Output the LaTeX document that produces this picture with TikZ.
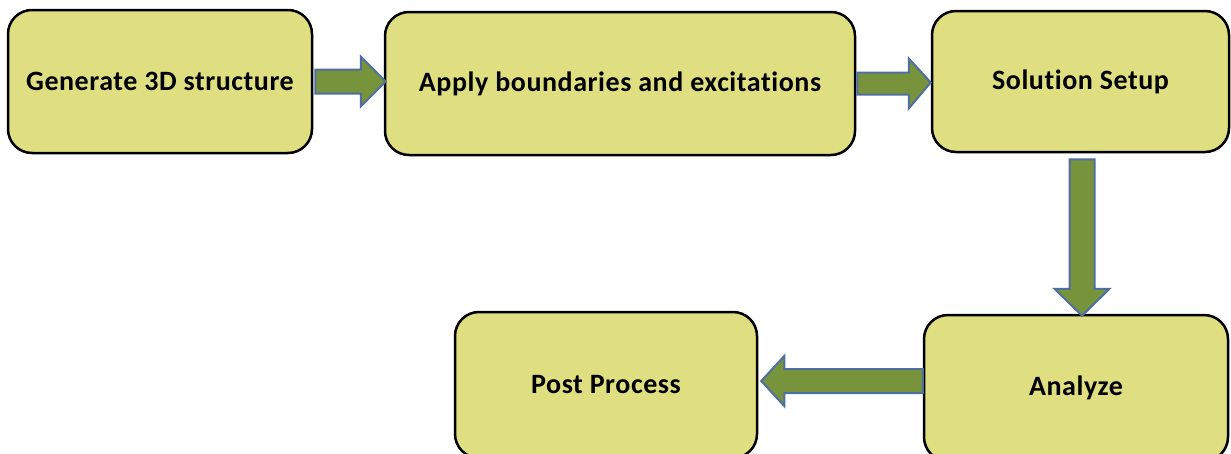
\documentclass[tikz,border=0pt]{standalone}
\usepackage{fontspec}
\setmainfont[Ligatures={NoCommon},LetterSpace=2]{Carlito}
\usetikzlibrary{calc}
\definecolor{boxfill}{RGB}{223,223,130}
\definecolor{arrfill}{RGB}{119,147,60}
\definecolor{arrline}{RGB}{79,111,160}
\tikzset{
  stepbox/.style={draw=black, line width=2.5pt, fill=boxfill, rounded corners=24pt,
    font=\fontsize{28}{32}\selectfont\bfseries, inner sep=0pt},
  barrow/.style={fill=arrfill, draw=arrline, line width=2pt, line join=miter}
}
\begin{document}
\begin{tikzpicture}[x=1pt,y=-1pt]
\useasboundingbox (0,0) rectangle (1231,453);
\clip (0,0) rectangle (1231,453);
\node[stepbox, minimum width=304pt, minimum height=143pt] (g) at (160,81.5) {Generate 3D structure};
\node[stepbox, minimum width=470pt, minimum height=143pt] (a) at (620,83.5) {Apply boundaries and excitations};
\node[stepbox, minimum width=297pt, minimum height=141pt] (s) at (1080.5,81.5) {Solution Setup};
\node[stepbox, minimum width=302pt, minimum height=146pt] (p) at (606,385) {Post Process};
\node[stepbox, minimum width=304pt, minimum height=146pt] (z) at (1076,388) {Analyze};
% arrow 1: g -> a
\path[barrow] let \p1=(g.east), \p2=(a.west) in
  (\x1+2pt,\y1-12pt) -- (\x2-23pt,\y1-12pt) -- (\x2-23pt,\y1-25pt) -- (\x2+2pt,\y1)
  -- (\x2-23pt,\y1+25pt) -- (\x2-23pt,\y1+12pt) -- (\x1+2pt,\y1+12pt) -- cycle;
% arrow 2: a -> s
\path[barrow] let \p1=(a.east), \p2=(s.west) in
  (\x1+1pt,\y1-11pt) -- (\x2-22pt,\y1-11pt) -- (\x2-22pt,\y1-25pt) -- (\x2,\y1+1pt)
  -- (\x2-22pt,\y1+25pt) -- (\x2-22pt,\y1+11pt) -- (\x1+1pt,\y1+11pt) -- cycle;
% arrow 3: s -> z
\path[barrow] let \p1=(s.south), \p2=(z.north) in
  (\x1-11pt,\y1-6pt) -- (\x1-11pt,\y2+25pt) -- (\x1-26pt,\y2+25pt) -- (\x1+1.5pt,\y2-2pt)
  -- (\x1+29pt,\y2+25pt) -- (\x1+14pt,\y2+25pt) -- (\x1+14pt,\y1-6pt) -- cycle;
% arrow 4: z -> p
\path[barrow] let \p1=(z.west), \p2=(p.east) in
  (\x1,\y1+19pt) -- (\x2+26pt,\y1+19pt) -- (\x2+26pt,\y1+32pt) -- (\x2+3pt,\y1+7pt)
  -- (\x2+26pt,\y1-18pt) -- (\x2+26pt,\y1-5pt) -- (\x1,\y1-5pt) -- cycle;
\end{tikzpicture}
\end{document}
